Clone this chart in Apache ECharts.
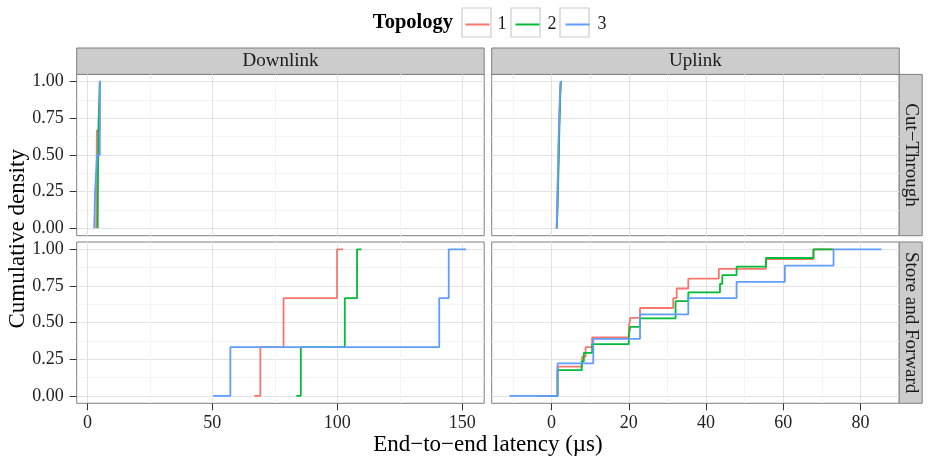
<!DOCTYPE html>
<html>
<head>
<meta charset="utf-8">
<script src="https://cdn.jsdelivr.net/npm/echarts@6/dist/echarts.min.js"></script>
<style>
  html, body { margin: 0; padding: 0; background: #fff; }
  #chart { width: 928px; height: 464px; }
</style>
</head>
<body>
<div id="chart"></div>
<script>
const topologies = ["1", "2", "3"];
const columns = ["Downlink", "Uplink"];
const rows = ["Cut−Through", "Store and Forward"];

// ECDF step points: [latency (µs), cumulative density]
const ctDown1 = [[3.5, 0], [3.65, 0.333], [3.75, 0.667], [4.95, 1], [5.25, 1]];
const ctDown2 = [[4.1, 0], [4.35, 0.667], [4.95, 1], [5.2, 1]];
const ctDown3 = [[2.7, 0], [3.05, 0.25], [3.85, 0.5], [4.95, 1], [5.3, 1]];

const ctUp1 = [[1.3, 0], [1.45, 0.1], [1.55, 0.2], [1.6, 0.3], [1.7, 0.4], [1.75, 0.5], [1.85, 0.6], [1.95, 0.7], [2.05, 0.8], [2.2, 0.9], [2.35, 1], [2.5, 1]];
const ctUp2 = [[1.35, 0], [1.5, 0.1], [1.6, 0.2], [1.7, 0.3], [1.8, 0.4], [1.9, 0.5], [1.95, 0.6], [2.05, 0.7], [2.15, 0.8], [2.25, 0.9], [2.4, 1], [2.55, 1]];
const ctUp3 = [[1.3, 0], [1.45, 0.111], [1.5, 0.222], [1.6, 0.333], [1.7, 0.444], [1.8, 0.556], [1.9, 0.667], [2.0, 0.778], [2.15, 0.889], [2.35, 1], [2.7, 1]];

const sfDown1 = [[66.8, 0], [69.2, 0.333], [78.5, 0.667], [99.9, 1], [102.3, 1]];
const sfDown2 = [[83.6, 0], [85.4, 0.333], [103.0, 0.667], [107.9, 1], [109.7, 1]];
const sfDown3 = [[50.3, 0], [57.2, 0.333], [140.8, 0.667], [144.6, 1], [151.5, 1]];

const sfUp1 = [[-3.75, 0], [1.55, 0.2], [7.9, 0.267], [8.8, 0.333], [10.5, 0.4], [20.0, 0.467], [20.4, 0.533], [22.9, 0.6], [31.5, 0.667], [32.4, 0.733], [35.4, 0.8], [43.3, 0.867], [55.5, 0.933], [67.8, 1], [73.1, 1]];
const sfUp2 = [[-3.75, 0], [1.55, 0.176], [7.8, 0.235], [8.35, 0.294], [10.5, 0.353], [20.0, 0.412], [20.35, 0.471], [22.9, 0.529], [32.1, 0.647], [35.4, 0.706], [43.6, 0.765], [44.2, 0.824], [47.9, 0.882], [55.5, 0.941], [67.8, 1], [72.8, 1]];
const sfUp3 = [[-10.9, 0], [1.55, 0.222], [10.8, 0.389], [22.9, 0.556], [35.4, 0.667], [47.9, 0.778], [60.4, 0.889], [73.0, 1], [85.4, 1]];

const downTicks = [0, 50, 100, 150];
const downMinor = [25, 75, 125];
const upTicks = [0, 20, 40, 60, 80];
const upMinor = [-10, 10, 30, 50, 70];
const densityTicks = [0, 0.25, 0.5, 0.75, 1];
const densityMinor = [0.125, 0.375, 0.625, 0.875];

// panel order: CT-Down, CT-Up, SF-Down, SF-Up
const panelData = [
  [ctDown1, ctDown2, ctDown3],
  [ctUp1, ctUp2, ctUp3],
  [sfDown1, sfDown2, sfDown3],
  [sfUp1, sfUp2, sfUp3],
];

const colors = ["#F8766D", "#00BA38", "#619CFF"];
const font = "'Liberation Serif', 'DejaVu Serif', serif";
const colLeft = [76.7, 491.7];
const colWidth = 407.5;
const rowTop = [74.4, 242];
const rowHeight = 161.3;
const xRange = [[-4.3, 158.8], [-15.5, 90]];
const xTicks = [downTicks, upTicks];
const xMinor = [downMinor, upMinor];

const chart = echarts.init(document.getElementById("chart"), null, { renderer: "canvas" });

const grids = [];
const xAxes = [];
const yAxes = [];
const minorX = [];
const minorY = [];
for (let r = 0; r < 2; r++) {
  for (let c = 0; c < 2; c++) {
    const g = r * 2 + c;
    const bottom = r === 1;
    const left = c === 0;
    grids.push({
      left: colLeft[c],
      top: rowTop[r],
      width: colWidth,
      height: rowHeight,
      show: true,
      backgroundColor: "#fff",
      borderColor: "#7f7f7f",
      borderWidth: 1,
    });
    xAxes.push({
      type: "value",
      gridIndex: g,
      position: "bottom",
      min: xRange[c][0],
      max: xRange[c][1],
      axisLine: { show: false, onZero: false },
      axisTick: {
        show: bottom,
        customValues: xTicks[c],
        length: 7,
        lineStyle: { color: "#333", width: 1 },
      },
      axisLabel: {
        show: bottom,
        customValues: xTicks[c],
        margin: 11,
        fontFamily: font,
        fontSize: 18,
        color: "#222",
      },
      splitLine: { show: true, lineStyle: { color: "#e3e3e3", width: 1 } },
    });
    yAxes.push({
      type: "value",
      gridIndex: g,
      position: "left",
      min: -0.05,
      max: 1.05,
      axisLine: { show: false, onZero: false },
      axisTick: {
        show: left,
        customValues: densityTicks,
        length: 7,
        lineStyle: { color: "#333", width: 1 },
      },
      axisLabel: {
        show: left,
        customValues: densityTicks,
        margin: 13,
        fontFamily: font,
        fontSize: 18,
        color: "#222",
        formatter: (v) => v.toFixed(2),
      },
      splitLine: { show: true, lineStyle: { color: "#e3e3e3", width: 1 } },
    });
    minorX.push({
      type: "value",
      gridIndex: g,
      position: "top",
      min: xRange[c][0],
      max: xRange[c][1],
      axisLine: { show: false, onZero: false },
      axisTick: { show: false, customValues: xMinor[c] },
      axisLabel: { show: false, customValues: xMinor[c] },
      splitLine: { show: true, lineStyle: { color: "#f4f4f4", width: 1 } },
    });
    minorY.push({
      type: "value",
      gridIndex: g,
      position: "right",
      min: -0.05,
      max: 1.05,
      axisLine: { show: false, onZero: false },
      axisTick: { show: false, customValues: densityMinor },
      axisLabel: { show: false, customValues: densityMinor },
      splitLine: { show: true, lineStyle: { color: "#f4f4f4", width: 1 } },
    });
  }
}

const series = [];
panelData.forEach((sets, g) => {
  sets.forEach((pts, i) => {
    series.push({
      name: topologies[i],
      type: "line",
      xAxisIndex: g,
      yAxisIndex: g,
      step: "end",
      symbol: "none",
      data: pts,
      color: colors[i],
      lineStyle: { width: 1.8, color: colors[i] },
      animation: false,
    });
  });
});

const graphics = [];
// top strips
columns.forEach((name, c) => {
  graphics.push({
    type: "rect",
    shape: { x: colLeft[c], y: 48, width: colWidth, height: rowTop[0] - 48 },
    style: { fill: "#cccccc", stroke: "#7f7f7f", lineWidth: 1 },
  });
  graphics.push({
    type: "text",
    x: colLeft[c] + colWidth / 2,
    y: (48 + rowTop[0]) / 2,
    style: { text: name, font: "19px " + font, fill: "#1a1a1a", align: "center", verticalAlign: "middle" },
  });
});
// right strips
rows.forEach((name, r) => {
  graphics.push({
    type: "rect",
    shape: { x: colLeft[1] + colWidth, y: rowTop[r], width: 23, height: rowHeight },
    style: { fill: "#cccccc", stroke: "#7f7f7f", lineWidth: 1 },
  });
  graphics.push({
    type: "text",
    x: colLeft[1] + colWidth + 11.5,
    y: rowTop[r] + rowHeight / 2,
    rotation: -Math.PI / 2,
    style: { text: name, font: "19px " + font, fill: "#1a1a1a", align: "center", verticalAlign: "middle" },
  });
});
// legend key boxes
[462, 511, 560].forEach((x) => {
  graphics.push({
    type: "rect",
    z: -1,
    shape: { x: x, y: 8, width: 29, height: 29 },
    style: { fill: "#fff", stroke: "#cccccc", lineWidth: 1.2 },
  });
});
graphics.push({
  type: "text",
  x: 453,
  y: 23,
  style: { text: "Topology", font: "bold 20.5px " + font, fill: "#000", align: "right", verticalAlign: "middle" },
});
graphics.push({
  type: "text",
  x: 18,
  y: rowTop[0] + (rowTop[1] + rowHeight - rowTop[0]) / 2,
  rotation: Math.PI / 2,
  style: { text: "Cumulative density", font: "23px " + font, fill: "#000", align: "center", verticalAlign: "middle" },
});
graphics.push({
  type: "text",
  x: colLeft[0] + (colLeft[1] + colWidth - colLeft[0]) / 2,
  y: 445,
  style: { text: "End−to−end latency (µs)", font: "23px " + font, fill: "#000", align: "center", verticalAlign: "middle" },
});

const option = {
  animation: false,
  backgroundColor: "#fff",
  grid: grids,
  xAxis: xAxes.concat(minorX),
  yAxis: yAxes.concat(minorY),
  legend: {
    data: topologies,
    left: 464.5,
    top: 15.5,
    padding: 0,
    itemWidth: 24,
    itemHeight: 20,
    itemGap: 8,
    selectedMode: false,
    itemStyle: { opacity: 0 },
    textStyle: { fontFamily: font, fontSize: 18, color: "#1a1a1a", padding: [0, 0, 0, 3] },
  },
  graphic: graphics,
  series: series,
};
chart.setOption(option);
</script>
</body>
</html>
